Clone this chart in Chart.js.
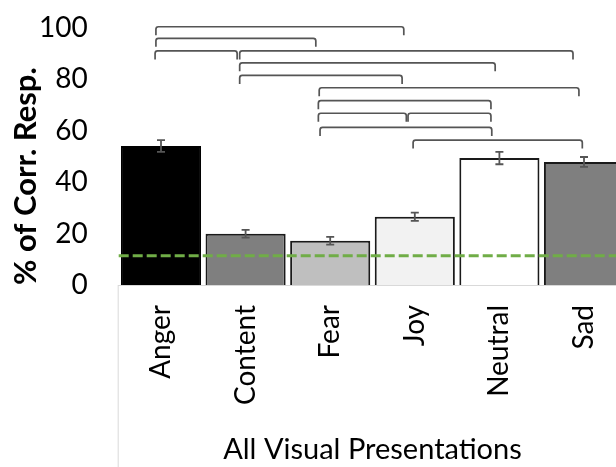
<!DOCTYPE html>
<html><head><meta charset="utf-8">
<script src="https://cdn.jsdelivr.net/npm/chart.js@4"></script>
<style>
html,body{margin:0;padding:0;overflow:hidden;background:#fff;width:616px;height:467px}
#wrap{position:absolute;left:0;top:0;width:640px;height:467px}
</style>
</head><body><div id="wrap"><canvas id="c" width="640" height="467"></canvas></div>
<script>
const categories = ['Anger', 'Content', 'Fear', 'Joy', 'Neutral', 'Sad'];
const percentCorrect = [54.0, 19.9, 17.2, 26.5, 49.3, 47.8];
const standardError = [2.3, 1.5, 1.5, 1.6, 2.4, 1.9];
const chanceLevel = 11.4;
const yTicks = [0, 20, 40, 60, 80, 100];
// significance brackets: category positions (fractional) and height in % units
const bracketFrom  = [-0.06, -0.06, -0.07, 0.93, 0.93, 0.93, 1.87, 1.86, 1.86, 2.92, 1.88, 2.98];
const bracketTo    = [ 2.87,  1.83,  0.90, 4.87, 3.95, 2.85, 4.94, 3.90, 2.90, 3.90, 3.91, 4.98];
const bracketLevel = [100.3, 95.8, 90.9, 90.9, 86.3, 81.4, 76.6, 71.6, 66.7, 66.7, 61.2, 56.3];
const bracketDrop = 3.3;

const barColors = ['#000000', '#7f7f7f', '#bfbfbf', '#f2f2f2', '#ffffff', '#7f7f7f'];
const barBorders = ['#000000', '#1a1a1a', '#1a1a1a', '#1a1a1a', '#1a1a1a', '#1a1a1a'];

const FONT = 'Lato';

const overlay = {
  id: 'overlay',
  afterDatasetsDraw(chart) {
    const {ctx, chartArea, scales: {x, y}} = chart;
    ctx.save();
    // error bars
    ctx.strokeStyle = '#555555';
    ctx.lineWidth = 1.8;
    percentCorrect.forEach((v, i) => {
      const px = x.getPixelForValue(i);
      const t = y.getPixelForValue(v + standardError[i]);
      const b = y.getPixelForValue(v - standardError[i]);
      ctx.beginPath();
      ctx.moveTo(px, t); ctx.lineTo(px, b);
      ctx.moveTo(px - 4, t); ctx.lineTo(px + 4, t);
      ctx.moveTo(px - 4, b); ctx.lineTo(px + 4, b);
      ctx.stroke();
    });
    // chance level
    const cy = y.getPixelForValue(chanceLevel);
    ctx.strokeStyle = '#70ad47';
    ctx.lineWidth = 3;
    ctx.setLineDash([10, 4]);
    ctx.beginPath();
    ctx.moveTo(chartArea.left, cy); ctx.lineTo(chartArea.right, cy);
    ctx.stroke();
    ctx.setLineDash([]);
    // brackets
    ctx.strokeStyle = '#555555';
    ctx.lineWidth = 1.7;
    ctx.lineJoin = 'round';
    bracketLevel.forEach((lv, k) => {
      const x1 = x.getPixelForValue(bracketFrom[k]);
      const x2 = x.getPixelForValue(bracketTo[k]);
      const yt = y.getPixelForValue(lv);
      const yb = y.getPixelForValue(lv - bracketDrop);
      const r = 2.5;
      ctx.beginPath();
      ctx.moveTo(x1, yb);
      ctx.arcTo(x1, yt, x1 + r, yt, r);
      ctx.arcTo(x2, yt, x2, yt + r, r);
      ctx.lineTo(x2, yb);
      ctx.stroke();
    });
    // frame below plot
    ctx.strokeStyle = '#d9d9d9';
    ctx.lineWidth = 1;
    ctx.beginPath();
    ctx.moveTo(chartArea.left - 0.5, chartArea.bottom);
    ctx.lineTo(chartArea.left - 0.5, chart.height);
    ctx.stroke();
    ctx.restore();
  }
};

new Chart(document.getElementById('c'), {
  type: 'bar',
  data: {
    labels: categories,
    datasets: [{
      data: percentCorrect,
      backgroundColor: barColors,
      borderColor: barBorders,
      borderWidth: 2,
      categoryPercentage: 1,
      barPercentage: 0.947
    }]
  },
  options: {
    responsive: false,
    devicePixelRatio: 1,
    animation: false,
    layout: {padding: {top: 27.5, right: 13.7, left: 0, bottom: 0}},
    plugins: {legend: {display: false}, tooltip: {enabled: false}},
    scales: {
      y: {
        min: 0, max: 100,
        afterBuildTicks(s) { s.ticks = yTicks.map(v => ({value: v})); },
        afterFit(s) { s.width = 118.7; s.paddingTop = 0; s.paddingBottom = 0; },
        grid: {display: false, drawTicks: false},
        border: {display: false},
        ticks: {color: '#000', font: {family: FONT, size: 28}, padding: 31},
        title: {display: true, text: '% of Corr. Resp.', color: '#000', align: 'start',
                font: {family: FONT, size: 31, weight: 'bold'}, padding: {top: 7, bottom: 0}}
      },
      x: {
        afterFit(s) { s.height = 182; },
        grid: {display: false, drawTicks: false},
        border: {display: true, color: '#d9d9d9', width: 1},
        ticks: {color: '#000', font: {family: FONT, size: 28}, maxRotation: 90, minRotation: 90,
                autoSkip: false, padding: 20},
        title: {display: true, text: 'All Visual Presentations', color: '#000',
                font: {family: FONT, size: 29}, padding: {top: 0, bottom: 0}}
      }
    }
  },
  plugins: [overlay]
});
</script>
</body></html>
